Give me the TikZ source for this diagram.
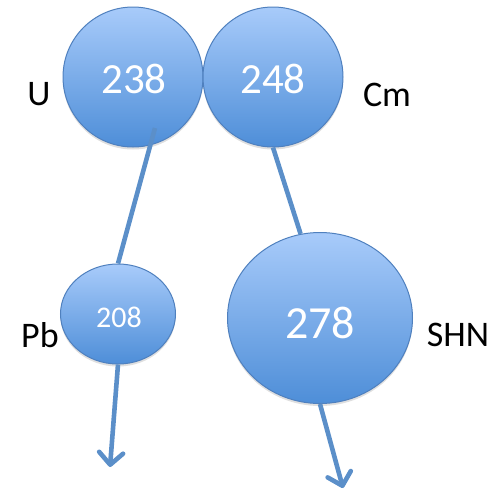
\documentclass[tikz,border=0pt]{standalone}
\usepackage{fontspec}
\setmainfont{Carlito}
\usetikzlibrary{arrows.meta,shadows,shapes.geometric}
\definecolor{ballTop}{HTML}{A8CBFA}
\definecolor{ballBot}{HTML}{4E8ED8}
\definecolor{ballEdge}{HTML}{4F80BE}
\definecolor{lineCol}{HTML}{5B8FC9}
\tikzset{
  ball/.style={ellipse, inner sep=0pt, draw=ballEdge, line width=1pt,
    top color=ballTop, bottom color=ballBot,
    drop shadow={opacity=0.25, shadow xshift=0pt, shadow yshift=-2.5pt}},
  num/.style={text=white},
  lbl/.style={text=black, font=\fontsize{36}{40}\selectfont},
  conn/.style={draw=lineCol, line width=4.6pt},
  decay/.style={conn, -{Straight Barb[length=12pt, width=24pt, line cap=round, line join=round]}}
}
\begin{document}
\begin{tikzpicture}[x=1pt, y=-1pt]
\useasboundingbox (0,0) rectangle (504,491);
\node[ball, minimum width=140pt, minimum height=140pt] (U) at (133,77) {};
\node[ball, minimum width=140pt, minimum height=140pt] (Cm) at (273,77) {};
\node[ball, minimum width=115pt, minimum height=100pt] (Pb) at (118,314) {};
\node[ball, minimum width=185pt, minimum height=171pt] (SHN) at (320,318) {};
\node[num, font=\fontsize{43}{46}\selectfont] (tU) at (134,79) {238};
\node[num, font=\fontsize{43}{46}\selectfont] (tCm) at (273,79) {248};
\node[num, font=\fontsize{30}{34}\selectfont] (tPb) at (119,317) {208};
\node[num, font=\fontsize{46}{50}\selectfont] (tSHN) at (320,323) {278};
\node[lbl] (lU) at (39,94) {U};
\node[lbl] (lCm) at (387,95) {Cm};
\node[lbl] (lPb) at (40,335) {Pb};
\node[lbl] (lSHN) at (458,335) {SHN};
\coordinate (uStart) at (155,128);
\coordinate (pbEnd) at (110,467);
\coordinate (shnEnd) at (343,488);
\draw[conn] (uStart) -- (Pb.north);
\draw[conn] (Cm.south) -- (SHN.103);
\draw[decay] (Pb.south) -- (pbEnd);
\draw[decay] (SHN.south) -- (shnEnd);
\end{tikzpicture}
\end{document}
